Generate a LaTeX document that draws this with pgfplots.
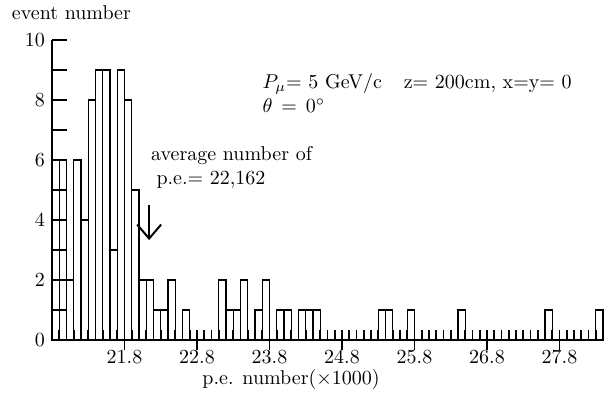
\documentclass[border=0pt]{standalone}
\usepackage{pgfplots}
\pgfplotsset{compat=1.18}
\usetikzlibrary{arrows.meta}
\begin{document}
\begin{tikzpicture}
\useasboundingbox (-26pt,-29pt) rectangle (279.5pt,170pt);
% main axis: bars, small x ticks every 0.1 (inside), annotations
\begin{axis}[
  at={(0,0)}, anchor=south west,
  scale only axis, width=275.5pt, height=150pt,
  xmin=20.8, xmax=28.4, ymin=0, ymax=10,
  axis x line=bottom, axis y line=none,
  axis line style={-, line width=0.8pt},
  ytick=\empty,
  xtick={20.9,21.0,21.1,21.2,21.3,21.4,21.5,21.6,21.7,21.8,21.9,22.0,22.1,22.2,22.3,22.4,22.5,22.6,22.7,22.8,22.9,23.0,23.1,23.2,23.3,23.4,23.5,23.6,23.7,23.8,23.9,24.0,24.1,24.2,24.3,24.4,24.5,24.6,24.7,24.8,24.9,25.0,25.1,25.2,25.3,25.4,25.5,25.6,25.7,25.8,25.9,26.0,26.1,26.2,26.3,26.4,26.5,26.6,26.7,26.8,26.9,27.0,27.1,27.2,27.3,27.4,27.5,27.6,27.7,27.8,27.9,28.0,28.1,28.2,28.3,28.4},
  xticklabels={},
  tick align=inside, major tick length=5pt,
  major tick style={line width=0.9pt, black},
  axis on top, clip=false,
]
\addplot[ybar, bar width=0.1, bar shift=0pt, draw=black, fill=white, line width=0.6pt]
coordinates {
(20.85,2) (20.95,6) (21.05,2) (21.15,6) (21.25,4) (21.35,8) (21.45,9) (21.55,9)
(21.65,3) (21.75,9) (21.85,8) (21.95,5) (22.05,2) (22.15,2) (22.25,1) (22.35,1)
(22.45,2) (22.65,1) (23.15,2) (23.25,1) (23.35,1) (23.45,2) (23.65,1) (23.75,2)
(23.95,1) (24.05,1) (24.25,1) (24.35,1) (24.45,1) (25.35,1) (25.45,1) (25.75,1)
(26.45,1) (27.65,1) (28.35,1)
};
\draw[line width=1pt, -{Straight Barb[length=7pt,width=12pt]}] (axis cs:22.14,4.5) -- (axis cs:22.14,3.33);
\node[anchor=base west, inner sep=0pt] at (axis cs:23.70,8.38) {$P_{\smash{\mu}}$= 5 GeV/c\hspace{11pt}z= 200cm, x=y= 0};
\node[anchor=base west, inner sep=0pt] at (axis cs:23.70,7.58) {$\theta\,=\,0^\circ$};
\node[anchor=base west, inner sep=0pt] at (axis cs:22.163,6.0) {average number of};
\node[anchor=base west, inner sep=0pt] at (axis cs:22.236,5.167) {p.e.= 22,162};
\node[anchor=base, inner sep=0pt] at (axis cs:24.098,0) [yshift=-22.3pt] {p.e. number($\times$1000)};
\node[anchor=base west, inner sep=0pt] at (rel axis cs:0,1) [xshift=-20.2pt, yshift=10.5pt] {event number};
\end{axis}
% major x ticks (outside) with labels
\begin{axis}[
  at={(0,0)}, anchor=south west,
  scale only axis, width=275.5pt, height=150pt,
  xmin=20.8, xmax=28.4, ymin=0, ymax=10,
  axis x line=bottom, axis y line=none,
  axis line style={-, line width=0.8pt},
  xtick={21.8,22.8,23.8,24.8,25.8,26.8,27.8},
  xticklabels={21.8,22.8,23.8,24.8,25.8,26.8,27.8},
  xticklabel style={yshift=3.5pt},
  ytick=\empty,
  tick align=outside, major tick length=5pt,
  major tick style={line width=0.8pt, black},
]
\addplot[draw=none] coordinates {(21,0)};
\end{axis}
% y axis
\begin{axis}[
  at={(0,0)}, anchor=south west,
  scale only axis, width=275.5pt, height=150pt,
  xmin=20.8, xmax=28.4, ymin=0, ymax=10,
  axis x line=none, axis y line=left,
  axis line style={-, line width=0.8pt},
  xtick=\empty,
  ytick={0,1,2,3,4,5,6,7,8,9,10},
  yticklabels={0,,2,,4,,6,,8,,10},
  tick align=inside, major tick length=7.5pt,
  major tick style={line width=0.8pt, black},
]
\addplot[draw=none] coordinates {(21,0)};
\end{axis}
\end{tikzpicture}
\end{document}
